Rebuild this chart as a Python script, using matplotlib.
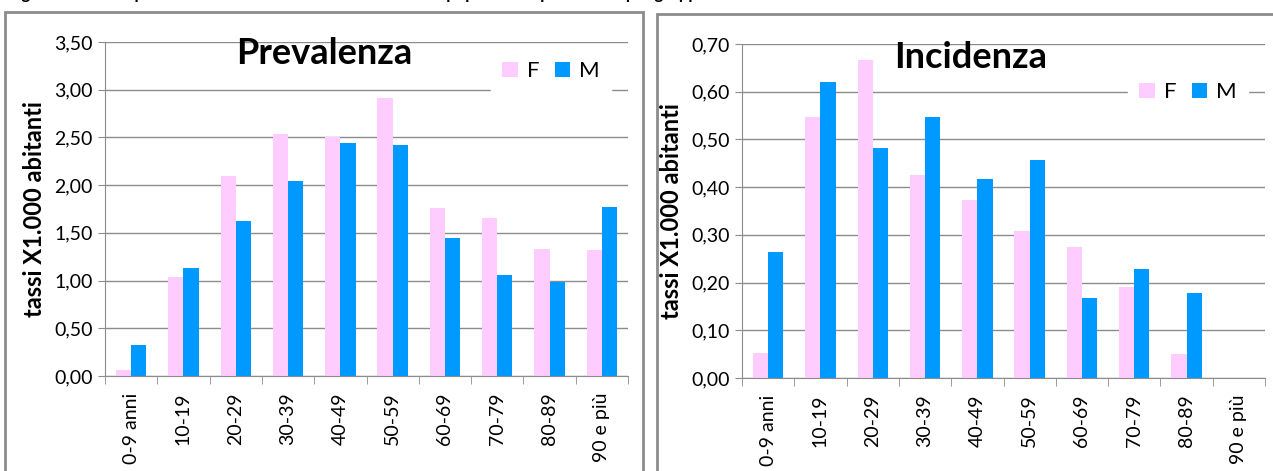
import matplotlib.pyplot as plt
import numpy as np
from matplotlib.patches import Rectangle

# fasce d'età
eta = ["0-9 anni", "10-19", "20-29", "30-39", "40-49",
       "50-59", "60-69", "70-79", "80-89", "90 e più"]

# prevalenza (tassi x 1.000 abitanti)
prev_f = [0.06, 1.04, 2.10, 2.54, 2.50, 2.91, 1.76, 1.66, 1.33, 1.32]
prev_m = [0.33, 1.13, 1.62, 2.04, 2.44, 2.42, 1.45, 1.06, 0.98, 1.77]

# incidenza (tassi x 1.000 abitanti)
inc_f = [0.053, 0.548, 0.667, 0.426, 0.374, 0.308, 0.275, 0.190, 0.050, 0.0]
inc_m = [0.265, 0.621, 0.481, 0.548, 0.418, 0.456, 0.168, 0.228, 0.178, 0.0]

col_f = "#FFCCFF"
col_m = "#0099FF"
grigio = "#8C8C8C"
font = ["Lato", "DejaVu Sans"]

plt.rcParams["font.family"] = font

fig = plt.figure(figsize=(12.73, 4.71), dpi=100)

# cornici dei due grafici
fig.patches.append(Rectangle((5 / 1273, -0.05), 638 / 1273, 1.05 - 12 / 471,
                             transform=fig.transFigure, fill=False,
                             edgecolor=grigio, lw=2))
fig.patches.append(Rectangle((657 / 1273, -0.05), 0.5, 1.05 - 14 / 471,
                             transform=fig.transFigure, fill=False,
                             edgecolor=grigio, lw=2))

# titolo della figura, tagliato in alto
fig.text(8 / 1273, 1.013,
         "Figura 2. Tassi di prevalenza e incidenza della malattia nella popolazione per sesso e per gruppi di età",
         ha="left", va="center", fontsize=12, fontweight="bold", color="black")


def grafico(ax, f, m, titolo, ymax, passo, tit_xy, leg_xy):
    x = np.arange(len(eta))
    w = 0.29
    ax.bar(x - w / 2, f, w, color=col_f, label="F", zorder=2)
    ax.bar(x + w / 2, m, w, color=col_m, label="M", zorder=2)
    ax.set_xlim(-0.5, len(eta) - 0.5)
    ax.set_ylim(0, ymax)
    ticks = np.arange(0, ymax + passo / 2, passo)
    ax.set_yticks(ticks)
    ax.set_yticklabels([f"{t:.2f}".replace(".", ",") for t in ticks], fontsize=14)
    ax.yaxis.grid(True, color=grigio, lw=1, zorder=0)
    ax.set_axisbelow(True)
    ax.set_xticks(x)
    ax.set_xticklabels(eta, rotation=90, fontsize=14)
    ax.set_xticks(np.arange(-0.5, len(eta)), minor=True)
    ax.tick_params(axis="x", which="major", length=0, pad=12)
    ax.tick_params(axis="x", which="minor", length=6, color=grigio, direction="out")
    ax.tick_params(axis="y", length=5, color=grigio, pad=4)
    for s in ["top", "right"]:
        ax.spines[s].set_visible(False)
    for s in ["left", "bottom"]:
        ax.spines[s].set_color(grigio)
    ax.set_ylabel("tassi X1.000 abitanti", fontsize=17, fontweight="bold", labelpad=6)
    ax.text(tit_xy[0], tit_xy[1], titolo, transform=ax.transAxes, ha="center", va="center",
            fontsize=26, fontweight="bold")
    leg = ax.legend(loc="center", bbox_to_anchor=leg_xy, ncol=2, frameon=True,
                    fontsize=16, handlelength=0.7, handleheight=0.7, handletextpad=0.4,
                    columnspacing=0.7, borderpad=0.5)
    leg.get_frame().set_edgecolor("white")
    leg.get_frame().set_facecolor("white")
    leg.get_frame().set_alpha(1)
    leg.get_frame().set_boxstyle("square", pad=0)


ax1 = fig.add_axes([105 / 1273, 1 - 376 / 471, 523 / 1273, 334 / 471])
grafico(ax1, prev_f, prev_m, "Prevalenza", 3.5, 0.5, (0.419, 0.965), (0.853, 0.913))

ax2 = fig.add_axes([742 / 1273, 1 - 378 / 471, 523 / 1273, 334 / 471])
grafico(ax2, inc_f, inc_m, "Incidenza", 0.7, 0.1, (0.438, 0.96), (0.853, 0.856))

fig.savefig("out.png", dpi=100)
